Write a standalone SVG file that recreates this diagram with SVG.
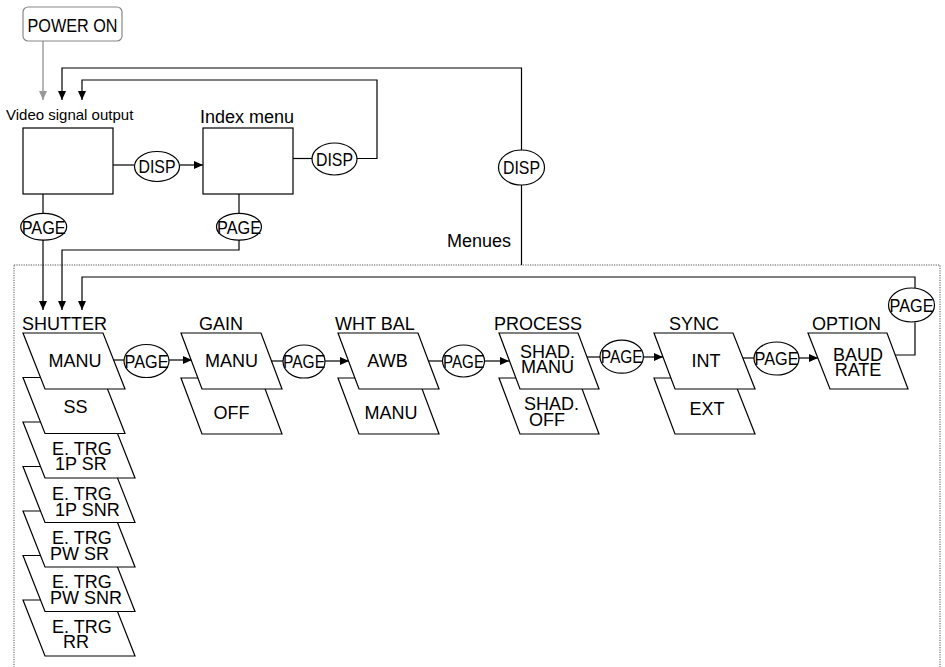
<svg xmlns="http://www.w3.org/2000/svg" width="945" height="667" viewBox="0 0 945 667">
<style>
text{font-family:"Liberation Sans",Arial,Helvetica,sans-serif;fill:#000}
.t18{font-size:18px}
.lab{font-size:18px;text-anchor:middle}
.mid{text-anchor:middle}
.ln{fill:none;stroke:#000;stroke-width:1.2}
.gl{fill:none;stroke:#999;stroke-width:1.4}
.el{fill:#fff;stroke:#000;stroke-width:1.2}
.pg{fill:#fff;stroke:#000;stroke-width:1.2;stroke-linejoin:miter}
.box{fill:#fff;stroke:#000;stroke-width:1.2}
</style>
<defs>
<marker id="ah" markerUnits="userSpaceOnUse" markerWidth="10" markerHeight="9" refX="9" refY="4" orient="auto"><path d="M0,0 L9,4 L0,8 z" fill="#000"/></marker>
<marker id="ahg" markerUnits="userSpaceOnUse" markerWidth="10" markerHeight="9" refX="9" refY="4" orient="auto"><path d="M0,0 L9,4 L0,8 z" fill="#999"/></marker>
</defs>
<rect width="945" height="667" fill="#fff"/>

<!-- Menus frame -->
<rect id="menus-frame" x="14" y="265" width="926" height="420" fill="none" stroke="#555" stroke-width="1" stroke-dasharray="1.2,1.2"/>

<!-- connectors -->
<g id="connectors">
<path class="gl" d="M43,41 V100" marker-end="url(#ahg)"/>
<path class="ln" d="M521.5,265 V185 M521.5,150 V68 H62 V100" marker-end="url(#ah)"/>
<path class="ln" d="M356.5,158.5 H377 V80 H82 V100" marker-end="url(#ah)"/>
<path class="ln" d="M293,158.5 H312"/>
<path class="ln" d="M113,165 H134.5"/>
<path class="ln" d="M179.5,165 H203" marker-end="url(#ah)"/>
<path class="ln" d="M43,194 V213.3"/>
<path class="ln" d="M43,240 V310" marker-end="url(#ah)"/>
<path class="ln" d="M239,194 V213.3"/>
<path class="ln" d="M239,240 V250 H62 V310" marker-end="url(#ah)"/>
<path class="ln" d="M895,355 H915 V322.5 M915,288 V277 H82 V310" marker-end="url(#ah)"/>
<path class="ln" d="M113,360 H124"/>
<path class="ln" d="M169,360 H192" marker-end="url(#ah)"/>
<path class="ln" d="M271,361 H283"/>
<path class="ln" d="M325,361 H349" marker-end="url(#ah)"/>
<path class="ln" d="M429,361 H443"/>
<path class="ln" d="M484,361 H509" marker-end="url(#ah)"/>
<path class="ln" d="M587,357 H600"/>
<path class="ln" d="M643,357 H663" marker-end="url(#ah)"/>
<path class="ln" d="M743,358 H754"/>
<path class="ln" d="M799,358 H818" marker-end="url(#ah)"/>
</g>

<g id="power-on">
<rect x="23" y="7" width="99" height="34" rx="5" fill="#fff" stroke="#888" stroke-width="1.2"/>
<text x="72.5" y="32" font-size="19" text-anchor="middle" textLength="90" lengthAdjust="spacingAndGlyphs">POWER ON</text>
</g>

<g id="video-output">
<text x="6" y="120" font-size="15">Video signal output</text>
<rect class="box" x="23" y="128" width="90" height="66"/>
</g>

<g id="index-menu">
<text class="t18" x="200" y="123">Index menu</text>
<rect class="box" x="203" y="128" width="90" height="66"/>
</g>

<g id="disp1"><ellipse class="el" cx="157" cy="166.5" rx="22.5" ry="15"/><text class="lab" x="157" y="173" textLength="37" lengthAdjust="spacingAndGlyphs">DISP</text></g>
<g id="disp2"><ellipse class="el" cx="334.5" cy="159" rx="22.5" ry="16"/><text class="lab" x="334.5" y="165.5" textLength="37" lengthAdjust="spacingAndGlyphs">DISP</text></g>
<g id="disp3"><ellipse class="el" cx="521.5" cy="167.5" rx="23" ry="17.5"/><text class="lab" x="521.5" y="174" textLength="37" lengthAdjust="spacingAndGlyphs">DISP</text></g>

<g id="page-video"><ellipse class="el" cx="43.7" cy="226.7" rx="23" ry="13.4"/><text class="lab" x="43.7" y="233.5" textLength="44" lengthAdjust="spacingAndGlyphs">PAGE</text></g>
<g id="page-index"><ellipse class="el" cx="239" cy="226.7" rx="22.5" ry="13.4"/><text class="lab" x="239" y="233.5" textLength="44" lengthAdjust="spacingAndGlyphs">PAGE</text></g>

<g id="menues-label"><text class="t18" x="447" y="247">Menues</text></g>

<!-- SHUTTER -->
<g id="shutter">
<text class="t18" x="22" y="330">SHUTTER</text>
<polygon class="pg" points="23,600 113,600 135,656 45,656"/>
<text class="t18" x="52" y="632.5">E. TRG</text><text class="t18" x="63" y="648">RR</text>
<polygon class="pg" points="23,555.5 113,555.5 135,611.5 45,611.5"/>
<text class="t18" x="52" y="588">E. TRG</text><text class="t18" x="50" y="604">PW SNR</text>
<polygon class="pg" points="23,511 113,511 135,567 45,567"/>
<text class="t18" x="52" y="544">E. TRG</text><text class="t18" x="50" y="560">PW SR</text>
<polygon class="pg" points="23,466.5 113,466.5 135,522.5 45,522.5"/>
<text class="t18" x="52" y="500">E. TRG</text><text class="t18" x="55" y="515.5">1P SNR</text>
<polygon class="pg" points="23,422 113,422 135,478 45,478"/>
<text class="t18" x="52" y="454.5">E. TRG</text><text class="t18" x="55" y="470">1P SR</text>
<polygon class="pg" points="23,377.5 103,377.5 125,433.5 45,433.5"/>
<text class="t18 mid" x="75.5" y="413">SS</text>
<polygon class="pg" points="23,333 103,333 125,389 45,389"/>
<text class="t18 mid" x="75" y="367">MANU</text>
</g>

<g id="page-1"><ellipse class="el" cx="146.5" cy="361" rx="22.5" ry="16.5"/><text class="lab" x="146.5" y="367.5" textLength="44" lengthAdjust="spacingAndGlyphs">PAGE</text></g>

<!-- GAIN -->
<g id="gain">
<text class="t18" x="199" y="330">GAIN</text>
<polygon class="pg" points="181,378 261,378 282,434 202,434"/>
<text class="t18 mid" x="231.5" y="419">OFF</text>
<polygon class="pg" points="181,333 261,333 282,389 202,389"/>
<text class="t18 mid" x="231.5" y="367">MANU</text>
</g>

<g id="page-2"><ellipse class="el" cx="304" cy="361.5" rx="21" ry="16.5"/><text class="lab" x="304" y="368" textLength="42" lengthAdjust="spacingAndGlyphs">PAGE</text></g>

<!-- WHT BAL -->
<g id="wht-bal">
<text class="t18" x="335" y="330">WHT BAL</text>
<polygon class="pg" points="338,378 418,378 439,434 359,434"/>
<text class="t18 mid" x="391" y="419">MANU</text>
<polygon class="pg" points="338,333 418,333 439,389 359,389"/>
<text class="t18 mid" x="387.5" y="367">AWB</text>
</g>

<g id="page-3"><ellipse class="el" cx="463.5" cy="361" rx="21" ry="16"/><text class="lab" x="463.5" y="367.5" textLength="41" lengthAdjust="spacingAndGlyphs">PAGE</text></g>

<!-- PROCESS -->
<g id="process">
<text class="t18" x="494" y="330">PROCESS</text>
<polygon class="pg" points="499,378 578,378 599,434 520,434"/>
<text class="t18 mid" x="551.5" y="410">SHAD.</text><text class="t18 mid" x="547" y="426">OFF</text>
<polygon class="pg" points="499,333 578,333 599,389 520,389"/>
<text class="t18 mid" x="547.5" y="358">SHAD.</text><text class="t18 mid" x="547.5" y="373">MANU</text>
</g>

<g id="page-4"><ellipse class="el" cx="621.7" cy="356.7" rx="21.7" ry="16.5"/><text class="lab" x="621.7" y="363.2" textLength="42" lengthAdjust="spacingAndGlyphs">PAGE</text></g>

<!-- SYNC -->
<g id="sync">
<text class="t18" x="669" y="330">SYNC</text>
<polygon class="pg" points="654,378 733,378 755,434 675,434"/>
<text class="t18 mid" x="707" y="415">EXT</text>
<polygon class="pg" points="654,333 733,333 755,389 675,389"/>
<text class="t18 mid" x="706" y="367">INT</text>
</g>

<g id="page-5"><ellipse class="el" cx="776.5" cy="358.5" rx="22.5" ry="16.5"/><text class="lab" x="776.5" y="365" textLength="44" lengthAdjust="spacingAndGlyphs">PAGE</text></g>

<!-- OPTION -->
<g id="option">
<text class="t18" x="812" y="330">OPTION</text>
<polygon class="pg" points="808,333 887,333 908,389 830,389"/>
<text class="t18 mid" x="858" y="361">BAUD</text><text class="t18 mid" x="858" y="375.5">RATE</text>
</g>

<g id="page-6"><ellipse class="el" cx="911.5" cy="305" rx="23" ry="17"/><text class="lab" x="911.5" y="311.5" textLength="44" lengthAdjust="spacingAndGlyphs">PAGE</text></g>
</svg>
